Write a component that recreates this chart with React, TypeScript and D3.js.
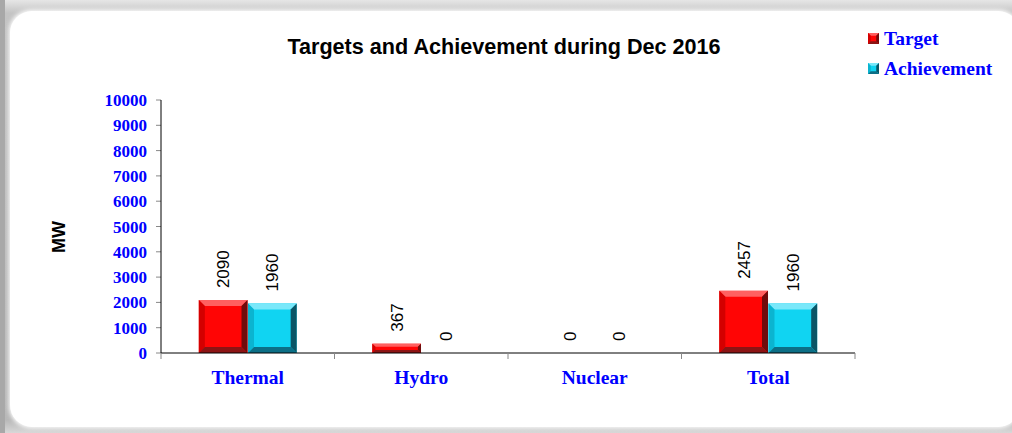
import React from "react";
import * as d3 from "d3";

const categories = ["Thermal", "Hydro", "Nuclear", "Total"];
const targetValues = [2090, 367, 0, 2457];
const achievementValues = [1960, 0, 0, 1960];
const yTicks = [0, 1000, 2000, 3000, 4000, 5000, 6000, 7000, 8000, 9000, 10000];
const seriesNames = ["Target", "Achievement"];

const W = 1012;
const H = 433;
const plot = { left: 161, right: 855, top: 100, bottom: 353 };

const palettes = [
  { face: "#ff0505", top: "#ff6060", side: "#d40000", bottom: "#8c1414", right: "#700c0c" },
  { face: "#10d4f2", top: "#7ae8fa", side: "#0bb4d0", bottom: "#0c6f86", right: "#0a5566" },
];

function BevelBar({ x, y, w, h, p, bev = 6 }: { x: number; y: number; w: number; h: number; p: any; bev?: number }) {
  if (h <= 0) return null;
  const b = Math.min(bev, h / 3, w / 4);
  const x0 = x, x1 = x + w, y0 = y, y1 = y + h;
  return (
    <g>
      <rect x={x0} y={y0} width={w} height={h} fill={p.face} />
      <polygon points={`${x0},${y0} ${x1},${y0} ${x1 - b},${y0 + b} ${x0 + b},${y0 + b}`} fill={p.top} />
      <polygon points={`${x0},${y0} ${x0 + b},${y0 + b} ${x0 + b},${y1 - b} ${x0},${y1}`} fill={p.side} />
      <polygon points={`${x1},${y0} ${x1},${y1} ${x1 - b},${y1 - b} ${x1 - b},${y0 + b}`} fill={p.right} />
      <polygon points={`${x0},${y1} ${x0 + b},${y1 - b} ${x1 - b},${y1 - b} ${x1},${y1}`} fill={p.bottom} />
    </g>
  );
}

export default function App() {
  const x0 = d3.scaleBand<string>().domain(categories).range([plot.left, plot.right]).paddingInner(0).paddingOuter(0);
  const bw0 = x0.bandwidth();
  const x1 = d3.scaleBand<string>().domain(seriesNames).range([bw0 * 0.218, bw0 * 0.782]).paddingInner(0.01).paddingOuter(0);
  const y = d3.scaleLinear().domain([0, 10000]).range([plot.bottom, plot.top]);
  const series = [targetValues, achievementValues];
  const serif = "'Liberation Serif', 'Times New Roman', serif";
  const sans = "Arial, 'Liberation Sans', sans-serif";

  return (
    <svg width={W} height={H} style={{ position: "absolute", left: 0, top: 0 }}>
      <defs>
        <linearGradient id="bgv" x1="0" y1="0" x2="0" y2="1">
          <stop offset="0" stopColor="#e6e6e6" />
          <stop offset="0.03" stopColor="#c4c4c4" />
          <stop offset="0.97" stopColor="#b8b8b8" />
          <stop offset="1" stopColor="#d8d8d8" />
        </linearGradient>
        <filter id="blur" x="-5%" y="-5%" width="110%" height="110%">
          <feGaussianBlur stdDeviation="2" />
        </filter>
      </defs>
      <rect x={0} y={0} width={W} height={H} fill="url(#bgv)" />
      <rect x={0} y={0} width={5} height={H} fill="#a8a8a8" />
      <rect x={9} y={10} width={1012} height={418} rx={22} fill="#ffffff" filter="url(#blur)" />
      <rect x={10} y={11} width={1010} height={416} rx={22} fill="#ffffff" />

      <text x={504} y={54} textAnchor="middle" fontFamily={sans} fontWeight="bold" fontSize={21.6} fill="#000">
        Targets and Achievement during Dec 2016
      </text>

      {seriesNames.map((s, i) => (
        <g key={s}>
          <BevelBar x={868} y={33 + i * 30} w={11} h={11} p={palettes[i]} bev={3} />
          <text x={884} y={45 + i * 30} fontFamily={serif} fontWeight="bold" fontSize={19.5} fill="#0000ff">
            {s}
          </text>
        </g>
      ))}

      <text transform={`translate(65,237) rotate(-90)`} textAnchor="middle" fontFamily={sans} fontWeight="bold" fontSize={18} fill="#000">
        MW
      </text>

      {yTicks.map((t) => (
        <g key={t}>
          <line x1={156} x2={plot.left} y1={y(t)} y2={y(t)} stroke="#888" strokeWidth={1} />
          <text x={147} y={y(t) + 6} textAnchor="end" fontFamily={serif} fontWeight="bold" fontSize={17} fill="#0000ff">
            {t}
          </text>
        </g>
      ))}

      {categories.map((c, ci) => (
        <g key={c}>
          {series.map((vals, si) => {
            const bx = (x0(c) as number) + (x1(seriesNames[si]) as number);
            const bw = x1.bandwidth();
            const v = vals[ci];
            const top = y(v);
            return (
              <g key={si}>
                <BevelBar x={bx} y={top} w={bw} h={plot.bottom - top} p={palettes[si]} />
                <text
                  transform={`translate(${bx + bw / 2 + 6},${top - 12}) rotate(-90)`}
                  textAnchor="start"
                  fontFamily={sans}
                  fontSize={17}
                  fill="#000"
                >
                  {v}
                </text>
              </g>
            );
          })}
          <text x={(x0(c) as number) + bw0 / 2} y={384} textAnchor="middle" fontFamily={serif} fontWeight="bold" fontSize={19.5} fill="#0000ff">
            {c}
          </text>
        </g>
      ))}

      <line x1={plot.left} x2={plot.left} y1={plot.top} y2={plot.bottom} stroke="#000" strokeWidth={1} />
      <line x1={plot.left} x2={plot.right} y1={plot.bottom} y2={plot.bottom} stroke="#000" strokeWidth={1} />
      {categories.map((c) => (
        <line key={c} x1={(x0(c) as number) + bw0} x2={(x0(c) as number) + bw0} y1={plot.bottom} y2={plot.bottom + 6} stroke="#888" strokeWidth={1} />
      ))}
      <line x1={plot.left} x2={plot.left} y1={plot.bottom} y2={plot.bottom + 6} stroke="#888" strokeWidth={1} />
    </svg>
  );
}
